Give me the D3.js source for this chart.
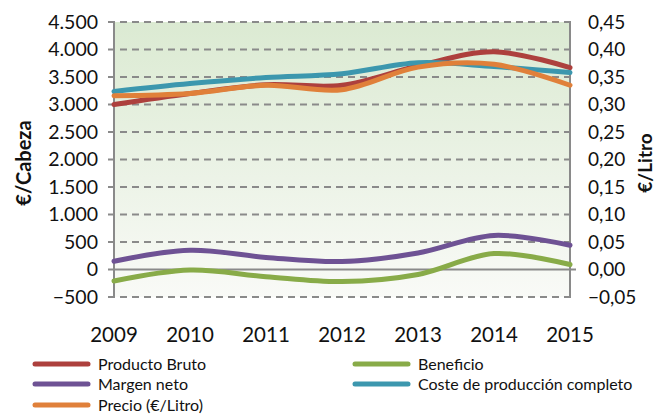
<!DOCTYPE html>
<html><head><meta charset="utf-8">
<script src="https://cdn.jsdelivr.net/npm/d3@7"></script>
<style>body{margin:0;background:#fff}svg{display:block}</style>
</head><body><svg id="c" width="669" height="418"></svg>
<script>
const years = [2009, 2010, 2011, 2012, 2013, 2014, 2015];
const productoBruto = [3000, 3200, 3360, 3350, 3700, 3960, 3670];
const margenNeto = [150, 350, 220, 145, 300, 620, 440];
const beneficio = [-210, -10, -130, -220, -90, 290, 90];
const coste = [3236, 3380, 3490, 3560, 3760, 3690, 3580];
const precio = [0.316, 0.320, 0.335, 0.327, 0.368, 0.373, 0.335];
const leftTicks = [-500, 0, 500, 1000, 1500, 2000, 2500, 3000, 3500, 4000, 4500];
const rightTicks = [-0.05, 0, 0.05, 0.10, 0.15, 0.20, 0.25, 0.30, 0.35, 0.40, 0.45];

const svg = d3.select("#c");
const L = 114, R = 570, T = 22, B = 297;
const x = d3.scalePoint().domain(years).range([L, R]);
const yL = d3.scaleLinear().domain([-500, 4500]).range([B, T]);
const yR = d3.scaleLinear().domain([-0.05, 0.45]).range([B, T]);
const font = "Lato, 'Open Sans', sans-serif";

const defs = svg.append("defs");
const g = defs.append("linearGradient").attr("id", "bg").attr("x1", 0).attr("y1", 0).attr("x2", 0).attr("y2", 1);
g.append("stop").attr("offset", "0%").attr("stop-color", "#dbead2");
g.append("stop").attr("offset", "100%").attr("stop-color", "#f9faf7");
svg.append("rect").attr("x", L).attr("y", T).attr("width", R - L).attr("height", B - T).attr("fill", "url(#bg)");

// gridlines
svg.append("g").selectAll("line").data(leftTicks).join("line")
  .attr("x1", L - 6).attr("x2", R + 6)
  .attr("y1", d => yL(d)).attr("y2", d => yL(d))
  .attr("stroke", "#8a8a8a").attr("stroke-width", 2)
  .attr("stroke-dasharray", d => d === 0 ? null : "7,5");

// axes lines
svg.append("line").attr("x1", L).attr("x2", L).attr("y1", T).attr("y2", B).attr("stroke", "#8a8a8a").attr("stroke-width", 2);
svg.append("line").attr("x1", R).attr("x2", R).attr("y1", T).attr("y2", B).attr("stroke", "#8a8a8a").attr("stroke-width", 2);

const fmtL = d => d3.format(",")(d).replace(/,/g, ".");
svg.append("g").selectAll("text").data(leftTicks).join("text")
  .attr("x", 98).attr("y", d => yL(d)).attr("dy", "0.35em").attr("text-anchor", "end")
  .attr("font-family", font).attr("font-size", 19.5).attr("fill", "#111").text(fmtL);
const fmtR = d => d3.format(".2f")(d).replace(".", ",");
svg.append("g").selectAll("text").data(rightTicks).join("text")
  .attr("x", 588).attr("y", d => yR(d)).attr("dy", "0.35em").attr("text-anchor", "start")
  .attr("font-family", font).attr("font-size", 19).attr("fill", "#111").text(fmtR);
svg.append("g").selectAll("text").data(years).join("text")
  .attr("x", d => x(d)).attr("y", 342).attr("text-anchor", "middle")
  .attr("font-family", font).attr("font-size", 20.5).attr("fill", "#111").text(d => d);

svg.append("text").attr("transform", "translate(31,163) rotate(-90)").attr("text-anchor", "middle")
  .attr("font-family", font).attr("font-weight", "bold").attr("font-size", 20).attr("fill", "#111").text("€/Cabeza");
svg.append("text").attr("transform", "translate(652,163) rotate(-90)").attr("text-anchor", "middle")
  .attr("font-family", font).attr("font-weight", "bold").attr("font-size", 19).attr("fill", "#111").text("€/Litro");

const curve = d3.curveCatmullRom.alpha(0.5);
const series = [
  {name: "Producto Bruto", vals: productoBruto, color: "#ad403d", sc: yL},
  {name: "Margen neto", vals: margenNeto, color: "#6e5294", sc: yL},
  {name: "Beneficio", vals: beneficio, color: "#88ab48", sc: yL},
  {name: "Coste de producción completo", vals: coste, color: "#3c97ae", sc: yL},
  {name: "Precio (€/Litro)", vals: precio, color: "#e0803a", sc: yR}
];
series.forEach(s => {
  const line = d3.line().x((d, i) => x(years[i])).y(d => s.sc(d)).curve(curve);
  svg.append("path").attr("d", line(s.vals)).attr("fill", "none")
    .attr("stroke", s.color).attr("stroke-width", 5).attr("stroke-linecap", "round");
});

const legend = [
  {name: "Producto Bruto", color: "#ad403d", x: 35, y: 364},
  {name: "Margen neto", color: "#6e5294", x: 35, y: 384},
  {name: "Precio (€/Litro)", color: "#e0803a", x: 35, y: 405},
  {name: "Beneficio", color: "#88ab48", x: 355, y: 364},
  {name: "Coste de producción completo", color: "#3c97ae", x: 355, y: 384}
];
const lg = svg.append("g").selectAll("g").data(legend).join("g");
lg.append("line").attr("x1", d => d.x).attr("x2", d => d.x + 53).attr("y1", d => d.y).attr("y2", d => d.y)
  .attr("stroke", d => d.color).attr("stroke-width", 5).attr("stroke-linecap", "round");
lg.append("text").attr("x", d => d.x + 63).attr("y", d => d.y).attr("dy", "0.35em")
  .attr("font-family", font).attr("font-size", 16).attr("fill", "#111").text(d => d.name);
</script></body></html>
